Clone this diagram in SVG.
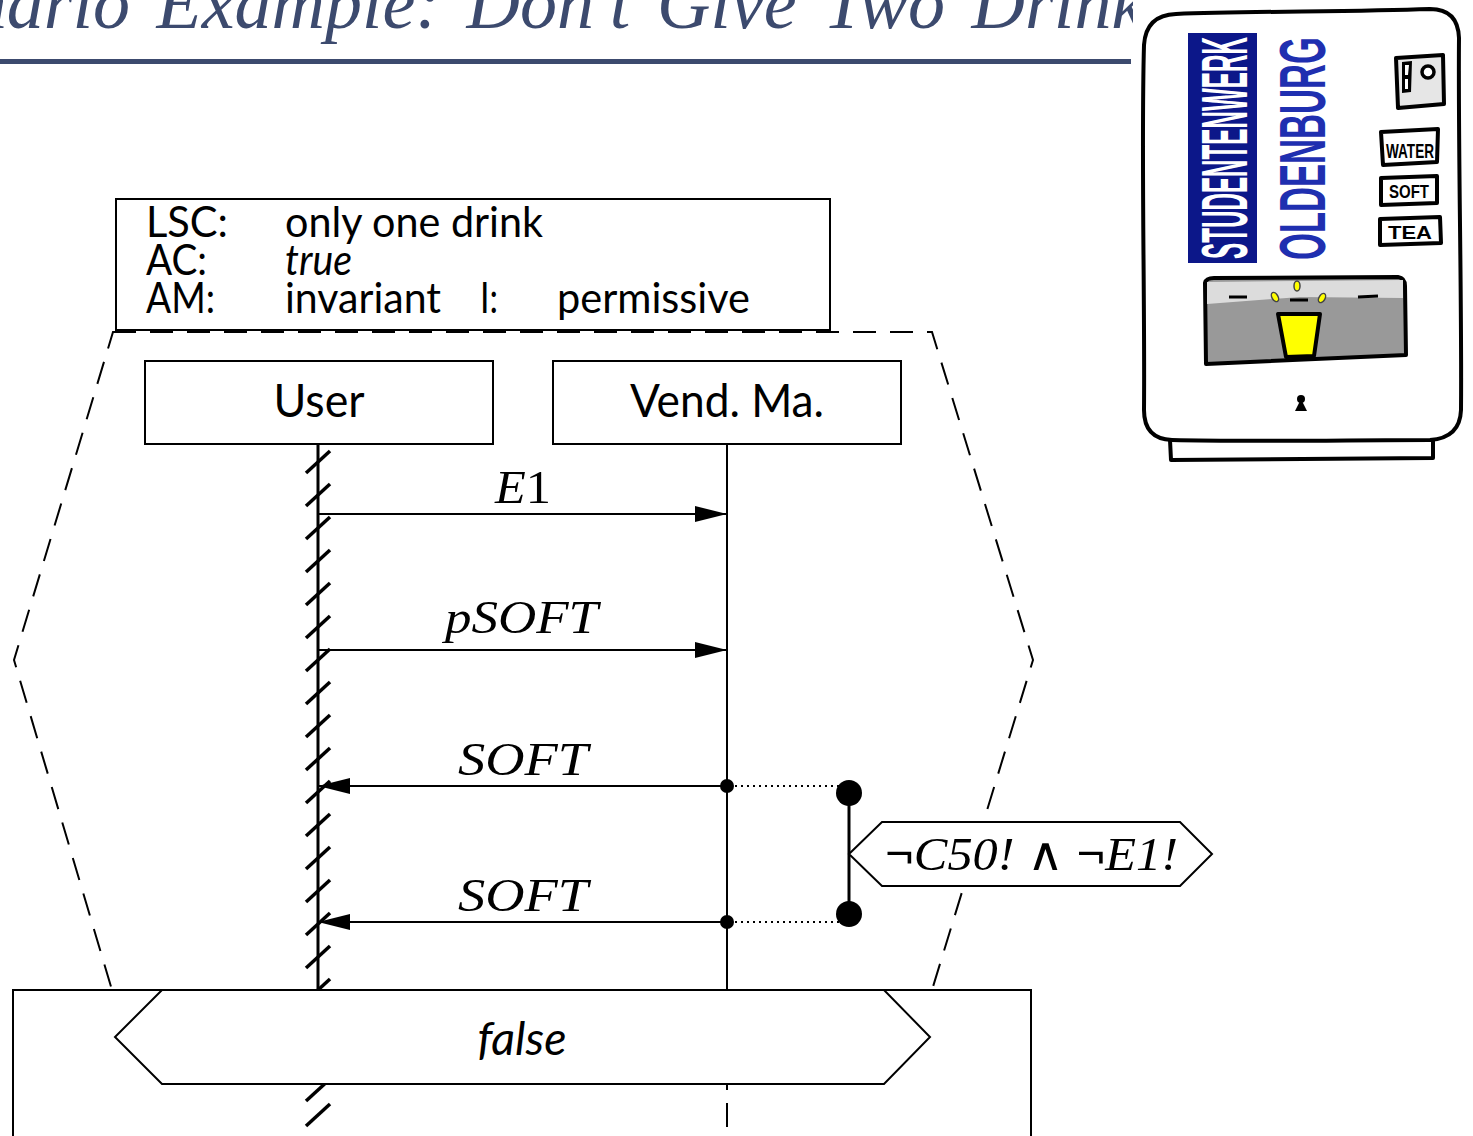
<svg xmlns="http://www.w3.org/2000/svg" width="1473" height="1136" viewBox="0 0 1473 1136">
  <style>
    .frame { fill: #fff; stroke: #000; stroke-width: 2; }
    .sans { font-family: Lato, "Open Sans", "Liberation Sans", sans-serif; fill: #000; }
    .math { font-family: "Liberation Serif", "DejaVu Serif", serif; font-style: italic; fill: #000; }
    .op { font-family: "Noto Sans", "DejaVu Sans", sans-serif; font-style: normal; font-weight: normal; }
    .msg { stroke: #000; stroke-width: 2; fill: none; }
    .hatch { stroke: #000; stroke-width: 3.5; fill: none; }
    .bound { fill: none; stroke: #000; stroke-width: 2; stroke-dasharray: 23 14; }
    .ink { stroke: #000; stroke-width: 4; stroke-linejoin: round; stroke-linecap: round; }
    .hand { font-family: "Liberation Sans Narrow", "Liberation Sans", sans-serif; font-weight: bold; fill: #000; }
  </style>
  <defs>
    <path id="hatchMark" d="M-12,11 L12,-11"/>
    <marker id="head" viewBox="0 0 32 16" refX="32" refY="8" markerWidth="32" markerHeight="16" markerUnits="userSpaceOnUse" orient="auto">
      <path d="M0,0 L32,8 L0,16 Z" fill="#000"/>
    </marker>
    <clipPath id="titleClip"><rect x="0" y="0" width="1133" height="58"/></clipPath>
    <clipPath id="lifeClip"><rect x="290" y="446" width="60" height="544"/></clipPath>
  </defs>
  <rect width="1473" height="1136" fill="#fff"/>

  <!-- slide title, running under the machine picture -->
  <g id="title">
    <text x="-133" y="28" clip-path="url(#titleClip)" font-family="Liberation Serif, serif" font-style="italic" font-size="74" word-spacing="8" fill="#3c4a6e">Scenario Example: Don't Give Two Drinks</text>
    <rect x="0" y="59" width="1131" height="5" fill="#3c4a6e"/>
  </g>

  <!-- chart boundary (dashed hexagon) -->
  <g id="chart-boundary">
    <polygon class="bound" points="113,332 932,332 1033,660 932,990 112,990 14,660"/>
  </g>

  <!-- LSC header -->
  <g id="lsc-header">
    <rect class="frame" x="116" y="199" width="714" height="131"/>
    <text class="sans" font-size="42" x="146" y="237" textLength="82" lengthAdjust="spacingAndGlyphs">LSC:</text>
    <text class="sans" font-size="42" x="285" y="237" textLength="258" lengthAdjust="spacingAndGlyphs">only one drink</text>
    <text class="sans" font-size="42" x="146" y="275" textLength="61" lengthAdjust="spacingAndGlyphs">AC:</text>
    <text class="sans" font-size="42" x="285" y="275" font-style="italic" textLength="67" lengthAdjust="spacingAndGlyphs">true</text>
    <text class="sans" font-size="42" x="146" y="313" textLength="69" lengthAdjust="spacingAndGlyphs">AM:</text>
    <text class="sans" font-size="42" x="285" y="313" textLength="156" lengthAdjust="spacingAndGlyphs">invariant</text>
    <text class="sans" font-size="42" x="480" y="313" textLength="18" lengthAdjust="spacingAndGlyphs">I:</text>
    <text class="sans" font-size="42" x="557" y="313" textLength="193" lengthAdjust="spacingAndGlyphs">permissive</text>
  </g>

  <!-- instance heads -->
  <g id="user">
    <rect class="frame" x="145" y="361" width="348" height="83"/>
    <text class="sans" font-size="47" x="319" y="417" text-anchor="middle" textLength="91" lengthAdjust="spacingAndGlyphs">User</text>
  </g>
  <g id="vend-ma">
    <rect class="frame" x="553" y="361" width="348" height="83"/>
    <text class="sans" font-size="47" x="727" y="417" text-anchor="middle" textLength="194" lengthAdjust="spacingAndGlyphs">Vend. Ma.</text>
  </g>

  <!-- lifelines, messages and the simultaneous region -->
  <g id="connectors">
    <!-- User lifeline (hot/hatched) -->
    <line x1="318" y1="444" x2="318" y2="990" stroke="#000" stroke-width="3"/>
    <g class="hatch" clip-path="url(#lifeClip)">
      <use href="#hatchMark" x="318" y="462"/>
      <use href="#hatchMark" x="318" y="495"/>
      <use href="#hatchMark" x="318" y="528"/>
      <use href="#hatchMark" x="318" y="561"/>
      <use href="#hatchMark" x="318" y="594"/>
      <use href="#hatchMark" x="318" y="627"/>
      <use href="#hatchMark" x="318" y="660"/>
      <use href="#hatchMark" x="318" y="693"/>
      <use href="#hatchMark" x="318" y="726"/>
      <use href="#hatchMark" x="318" y="759"/>
      <use href="#hatchMark" x="318" y="792"/>
      <use href="#hatchMark" x="318" y="825"/>
      <use href="#hatchMark" x="318" y="858"/>
      <use href="#hatchMark" x="318" y="891"/>
      <use href="#hatchMark" x="318" y="924"/>
      <use href="#hatchMark" x="318" y="957"/>
      <use href="#hatchMark" x="318" y="990"/>
    </g>
    <g class="hatch">
      <use href="#hatchMark" x="318" y="1090"/>
      <use href="#hatchMark" x="318" y="1115"/>
    </g>
    <!-- Vend. Ma. lifeline -->
    <line x1="727" y1="444" x2="727" y2="990" stroke="#000" stroke-width="2"/>
    <line x1="727" y1="1084" x2="727" y2="1090" stroke="#000" stroke-width="2"/>
    <line x1="727" y1="1103" x2="727" y2="1127" stroke="#000" stroke-width="2"/>

    <!-- messages -->
    <line class="msg" x1="318" y1="514" x2="727" y2="514" marker-end="url(#head)"/>
    <text class="math" font-size="46" x="495" y="503" textLength="56" lengthAdjust="spacingAndGlyphs">E<tspan font-style="normal">1</tspan></text>
    <line class="msg" x1="318" y1="650" x2="727" y2="650" marker-end="url(#head)"/>
    <text class="math" font-size="46" x="445" y="633" textLength="153" lengthAdjust="spacingAndGlyphs">pSOFT</text>
    <line class="msg" x1="727" y1="786" x2="318" y2="786" marker-end="url(#head)"/>
    <text class="math" font-size="46" x="458" y="775" textLength="130" lengthAdjust="spacingAndGlyphs">SOFT</text>
    <line class="msg" x1="727" y1="922" x2="318" y2="922" marker-end="url(#head)"/>
    <text class="math" font-size="46" x="458" y="911" textLength="130" lengthAdjust="spacingAndGlyphs">SOFT</text>

    <!-- condition anchors -->
    <circle cx="727" cy="786" r="7"/>
    <circle cx="727" cy="922" r="7"/>
    <line x1="735" y1="786" x2="840" y2="786" stroke="#000" stroke-width="2" stroke-dasharray="2 4"/>
    <line x1="735" y1="922" x2="840" y2="922" stroke="#000" stroke-width="2" stroke-dasharray="2 4"/>
    <line x1="849" y1="793" x2="849" y2="914" stroke="#000" stroke-width="3"/>
    <circle cx="849" cy="793" r="13"/>
    <circle cx="849" cy="914" r="13"/>
  </g>

  <!-- condition -->
  <g id="condition">
    <polygon class="frame" points="849,854 882,822 1180,822 1212,854 1180,886 882,886"/>
    <text class="math" font-size="46" x="885" y="870" textLength="293" lengthAdjust="spacingAndGlyphs"><tspan class="op">¬</tspan>C50! <tspan class="op">∧</tspan> <tspan class="op">¬</tspan>E1!</text>
  </g>

  <!-- cut (false) -->
  <g id="cut">
    <rect x="13" y="990" width="1018" height="160" fill="none" stroke="#000" stroke-width="2"/>
    <polygon class="frame" points="162,990 884,990 930,1037 884,1084 162,1084 115,1037"/>
    <text class="sans" font-size="46" x="522" y="1055" text-anchor="middle" font-style="italic" textLength="89" lengthAdjust="spacingAndGlyphs">false</text>
  </g>

  <!-- vending machine picture -->
  <g id="machine">
    <path class="ink" fill="#fff" stroke-width="3" d="M1170,440 L1171,460 L1433,458 L1433,440 Z"/>
    <path class="ink" fill="#fff" d="M1176,14 C1250,11 1350,12 1430,9 Q1458,9 1459,38 C1458,150 1462,300 1461,410 Q1460,438 1430,440 C1350,440 1250,442 1172,440 Q1144,439 1144,410 C1145,300 1141,150 1144,45 Q1146,15 1176,14 Z"/>
    <rect x="1188" y="33" width="69" height="230" fill="#0c1789"/>
    <text class="hand" font-size="64" transform="translate(1247,259) rotate(-90)" textLength="222" lengthAdjust="spacingAndGlyphs" style="fill:#fff">STUDENTENWERK</text>
    <text font-family="Liberation Sans, sans-serif" font-weight="bold" font-size="64" fill="#1f2fb0" transform="translate(1325,260) rotate(-90)" textLength="223" lengthAdjust="spacingAndGlyphs">OLDENBURG</text>
    <!-- coin slot -->
    <path class="ink" fill="#e6e6e6" d="M1396,58 L1443,55 L1444,104 L1398,108 Z"/>
    <path fill="#000" d="M1402,62 L1412,61 L1411,92 L1402,93 Z"/>
    <path fill="#fff" d="M1405,65 L1409,65 L1408,75 L1405,75 Z M1405,79 L1408,79 L1408,89 L1405,89 Z"/>
    <circle cx="1428" cy="72" r="6" fill="#fff" stroke="#000" stroke-width="3.5"/>
    <!-- buttons -->
    <path class="ink" fill="#fff" stroke-width="3" d="M1381,132 L1438,129 L1437,162 L1383,165 Z"/>
    <text class="hand" font-size="20" x="1386" y="158" textLength="48" lengthAdjust="spacingAndGlyphs">WATER</text>
    <path class="ink" fill="#fff" stroke-width="3" d="M1381,178 L1437,176 L1437,203 L1381,205 Z"/>
    <text class="hand" font-size="19" x="1389" y="198" textLength="40" lengthAdjust="spacingAndGlyphs">SOFT</text>
    <path class="ink" fill="#fff" stroke-width="3" d="M1380,219 L1440,217 L1441,243 L1380,245 Z"/>
    <text class="hand" font-size="19" x="1388" y="239" textLength="44" lengthAdjust="spacingAndGlyphs">TEA</text>
    <!-- dispenser -->
    <path class="ink" fill="#999" d="M1205,283 Q1206,278 1214,278 L1398,277 Q1405,278 1405,286 L1406,355 L1206,364 Z"/>
    <path fill="#dcdcdc" d="M1207,282 L1403,280 L1403,298 L1300,297 L1207,304 Z"/>
    <path d="M1229,297 L1247,297 M1290,300 L1308,300 M1358,297 L1378,296" stroke="#000" stroke-width="3"/>
    <path class="ink" fill="#ffff00" stroke="#333" stroke-width="3" d="M1278,314 L1320,314 L1314,356 L1286,357 Z"/>
    <ellipse cx="1275" cy="297" rx="3" ry="5" transform="rotate(-30 1275 297)" fill="#ffff00" stroke="#444" stroke-width="1.5"/>
    <ellipse cx="1297" cy="286" rx="3" ry="5" fill="#ffff00" stroke="#444" stroke-width="1.5"/>
    <ellipse cx="1322" cy="298" rx="3" ry="5" transform="rotate(30 1322 298)" fill="#ffff00" stroke="#444" stroke-width="1.5"/>
    <!-- lock -->
    <circle cx="1301" cy="399" r="4"/>
    <path d="M1295,411 L1307,411 L1302,401 L1300,401 Z"/>
  </g>
</svg>
